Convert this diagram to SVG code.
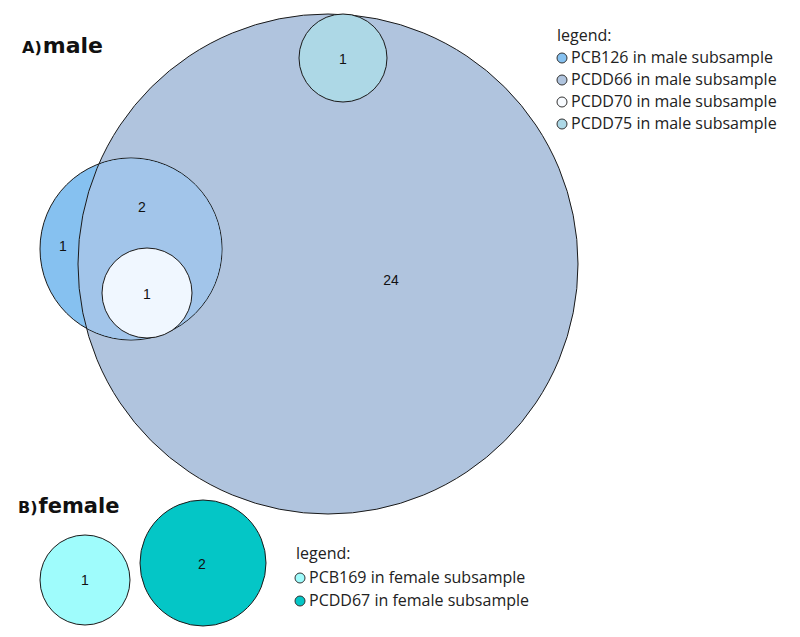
<svg xmlns="http://www.w3.org/2000/svg" width="800" height="637" viewBox="0 0 800 637">
<style>
.c{stroke:#1a1a1a;stroke-width:1}
.n{font-family:"Liberation Sans",Arial,sans-serif;font-size:14px;fill:#111;text-anchor:middle}
.lg{font-family:"Open Sans","Noto Sans",sans-serif;font-size:16px;fill:#222}
.b{stroke:#333;stroke-width:1}
.t{font-family:"DejaVu Sans",sans-serif;font-weight:bold;fill:#111}
</style>
<defs>
<clipPath id="bigClip"><circle cx="328" cy="264" r="250"/></clipPath>
<clipPath id="blueClip"><circle cx="131" cy="249" r="91"/></clipPath>
</defs>
<rect width="800" height="637" fill="#fff"/>
<text class="t" x="22" y="53"><tspan font-size="16">A)</tspan><tspan font-size="22" dx="1">male</tspan></text>
<text class="t" x="18" y="513"><tspan font-size="16">B)</tspan><tspan font-size="21" dx="1">female</tspan></text>
<g id="PCDD66"><circle class="c" cx="328" cy="264" r="250" fill="#b0c4de"/><text class="n" x="391" y="285">24</text></g>
<g id="PCB126"><circle class="c" cx="131" cy="249" r="91" fill="#86c1f0"/>
<circle cx="131" cy="249" r="90.5" fill="#a2c5ea" clip-path="url(#bigClip)"/>
<circle cx="328" cy="264" r="250" fill="none" class="c" clip-path="url(#blueClip)"/>
<text class="n" x="63" y="251">1</text><text class="n" x="142" y="212">2</text></g>
<g id="PCDD70"><circle class="c" cx="147" cy="293" r="45" fill="#f0f7ff"/><text class="n" x="147" y="299">1</text></g>
<g id="PCDD75"><circle class="c" cx="343" cy="58" r="44" fill="#add8e6"/><text class="n" x="343" y="64">1</text></g>
<g id="PCB169"><circle class="c" cx="85" cy="580" r="45" fill="#9ffcfc"/><text class="n" x="85" y="585">1</text></g>
<g id="PCDD67"><circle class="c" cx="203" cy="563" r="63" fill="#04c6c6"/><text class="n" x="202" y="569">2</text></g>
<g id="legendA">
<text class="lg" x="557" y="41">legend:</text>
<circle class="b" cx="562" cy="58" r="5" fill="#86c1f0"/><text class="lg" x="571" y="63">PCB126 in male subsample</text>
<circle class="b" cx="562" cy="80" r="5" fill="#b0c4de"/><text class="lg" x="571" y="85">PCDD66 in male subsample</text>
<circle class="b" cx="562" cy="102" r="5" fill="#f8fbff"/><text class="lg" x="571" y="107">PCDD70 in male subsample</text>
<circle class="b" cx="562" cy="124" r="5" fill="#add8e6"/><text class="lg" x="571" y="129">PCDD75 in male subsample</text>
</g>
<g id="legendB">
<text class="lg" x="296" y="559">legend:</text>
<circle class="b" cx="300" cy="578" r="5" fill="#9ffcfc"/><text class="lg" x="309" y="583">PCB169 in female subsample</text>
<circle class="b" cx="300" cy="601" r="5" fill="#04c6c6"/><text class="lg" x="309" y="606">PCDD67 in female subsample</text>
</g>
</svg>
